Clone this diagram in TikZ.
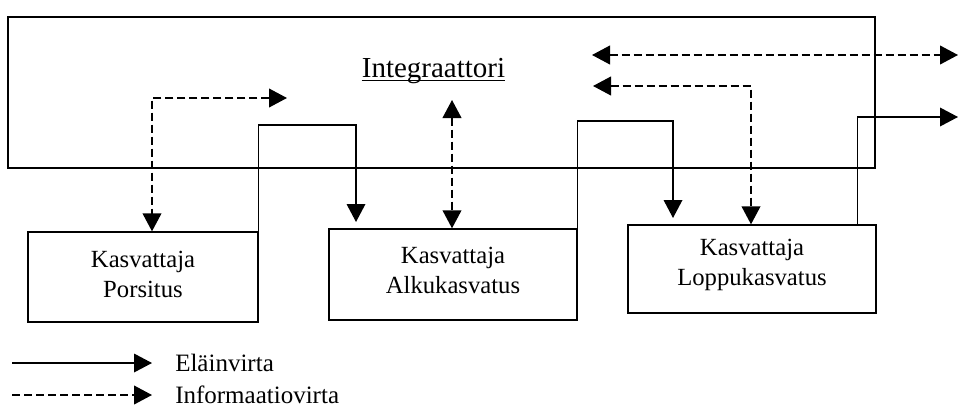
\documentclass[tikz,border=0pt]{standalone}
\usepackage{fontspec}
\setmainfont{Liberation Serif}
\usetikzlibrary{arrows.meta,calc}
\begin{document}
\begin{tikzpicture}[x=0.75pt,y=-0.75pt,
  flow/.style={line width=1pt,-{Triangle[length=13.5pt,width=14pt]}},
  info/.style={line width=1.4pt,dash pattern=on 6pt off 3pt,{Triangle[length=13.5pt,width=14pt]}-{Triangle[length=13.5pt,width=14pt]}},
  infoone/.style={line width=1.4pt,dash pattern=on 6pt off 3pt,-{Triangle[length=13.5pt,width=14pt]}},
  box/.style={draw,line width=1pt,inner sep=0pt},
  lbl/.style={font=\fontsize{18.5}{22.5}\selectfont,align=center,inner sep=0pt},
  legtext/.style={font=\fontsize{18.75}{23}\selectfont,inner sep=0pt,anchor=west}]
\useasboundingbox (0,0) rectangle (962,410);

% integrator frame
\node[box,minimum width=867*0.75pt,minimum height=151*0.75pt] (integ) at (441.5,92.5) {};
\node[font=\fontsize{21.75}{26}\selectfont,inner sep=0pt,anchor=base] (title) at (433.5,77) {Integraattori};
\draw[line width=0.9pt] ($(title.base west)+(0,3.5)$) -- ($(title.base east)+(0,3.5)$);

% grower boxes
\node[box,minimum width=230*0.75pt,minimum height=90*0.75pt] (b1) at (143,277) {};
\node[box,minimum width=248*0.75pt,minimum height=91*0.75pt] (b2) at (453,274.5) {};
\node[box,minimum width=248*0.75pt,minimum height=88*0.75pt] (b3) at (752,269) {};
\node[lbl] (t1) at ($(b1.center)+(0,-3)$) {Kasvattaja\\Porsitus};
\node[lbl] (t2) at ($(b2.center)+(0,-4)$) {Kasvattaja\\Alkukasvatus};
\node[lbl] (t3) at ($(b3.center)+(0,-4)$) {Kasvattaja\\Loppukasvatus};

% animal flow (solid)
\coordinate (s1b) at (356,125);
\coordinate (s1e) at (356,222);
\draw[flow] (b1.north east) |- (s1b) -- (s1e);
\coordinate (s2b) at (673,121);
\coordinate (s2e) at (673,218);
\draw[flow] (b2.north east) |- (s2b) -- (s2e);
\coordinate (s3a) at ($(b3.north east)+(-19,0)$);
\coordinate (s3e) at (958,117);
\draw[flow] (s3a) |- (s3e);

% information flow (dashed)
\coordinate (d1e) at (287,98);
\coordinate (d1b) at ($(b1.north)+(9,0)$);
\draw[info] (d1e) -| (d1b);
\coordinate (d2t) at (452,100);
\coordinate (d2b) at ($(b2.north)+(-1,0)$);
\draw[info] (d2t) -- (d2b);
\coordinate (d3l) at (592,55);
\coordinate (d3r) at (958,55);
\draw[info] (d3l) -- (d3r);
\coordinate (d4l) at (593,86);
\coordinate (d4b) at ($(b3.north)+(-1,0)$);
\draw[info] (d4l) -| (d4b);

% legend
\coordinate (l1a) at (12,363);
\coordinate (l1b) at (152,363);
\draw[flow] (l1a) -- (l1b);
\node[legtext] (l1t) at (175,363) {Eläinvirta};
\coordinate (l2a) at (12,395);
\coordinate (l2b) at (152,395);
\draw[infoone] (l2a) -- (l2b);
\node[legtext] (l2t) at (175,395) {Informaatiovirta};
\end{tikzpicture}
\end{document}
